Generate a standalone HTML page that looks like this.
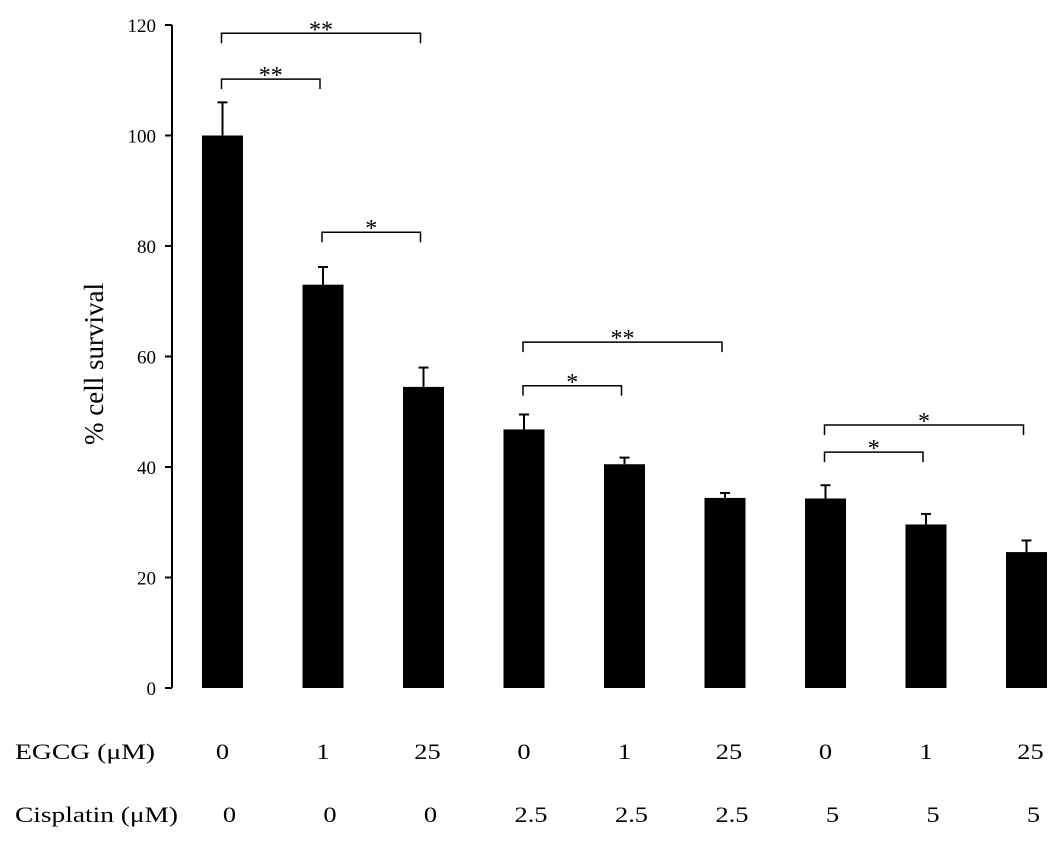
<!DOCTYPE html>
<html><head><meta charset="utf-8"><style>
body{margin:0;background:#fff;}
svg{display:block;font-family:"Liberation Serif",serif;}
</style></head><body>
<svg id="c" width="1063" height="846"></svg>
<script>
const categories=["1","2","3","4","5","6","7","8","9"];
const egcg=["0","1","25","0","1","25","0","1","25"];
const cisplatin=["0","0","0","2.5","2.5","2.5","5","5","5"];
const values=[100,73,54.5,46.8,40.5,34.4,34.3,29.6,24.6];
const errors=[6,3.2,3.5,2.7,1.2,0.9,2.4,1.9,2.1];
const yTicks=[0,20,40,60,80,100,120];
const sigFrom=[0,0,1,3,3,6,6];
const sigTo=[2,1,2,5,4,8,7];
const sigLevel=[118.5,110.2,82.5,62.6,54.7,47.6,42.7];
const sigLabel=["**","**","*","**","*","*","*"];
const NS="http://www.w3.org/2000/svg";
const svg=document.getElementById('c');
const y=v=>688-v*(663/120);
const x=i=>222.5+i*100.5;
function el(t,a,txt){const e=document.createElementNS(NS,t);for(const k in a)e.setAttribute(k,a[k]);if(txt!==undefined)e.textContent=txt;svg.appendChild(e);return e;}
let e=el('line',{x1:172,y1:y(0),x2:172,y2:y(120),stroke:'#000','stroke-width':2});


yTicks.forEach(t=>{
 let l=el('line',{x1:165,y1:y(t),x2:172,y2:y(t),stroke:'#000','stroke-width':2});
 
 
 let tx=el('text',{x:156,y:y(t)+7,'text-anchor':'end','font-size':19},t);
 
 
});
let yt=el('text',{x:0,y:0,transform:'translate(103,364) rotate(-90)','text-anchor':'middle','font-size':27,textLength:162,lengthAdjust:'spacingAndGlyphs'},'% cell survival');


values.forEach((v,i)=>{
 let eb=el('line',{x1:x(i),y1:y(v),x2:x(i),y2:y(v+errors[i]),stroke:'#000','stroke-width':2});
 
 
 let cap=el('line',{x1:x(i)-5,y1:y(v+errors[i]),x2:x(i)+5,y2:y(v+errors[i]),stroke:'#000','stroke-width':2});
 
 
 let b=el('rect',{x:x(i)-20.5,y:y(v),width:41,height:y(0)-y(v),fill:'#000'});
 
 
 let ex=x(i)+(i%3==2?4:0);
 let t1=el('text',{x:0,y:0,transform:`translate(${ex},759) scale(1.2,1)`,'text-anchor':'middle','font-size':22},egcg[i]);
 
 
 let cx=x(i)+7;
 let t2=el('text',{x:0,y:0,transform:`translate(${cx},822) scale(1.2,1)`,'text-anchor':'middle','font-size':22},cisplatin[i]);
 
 
});
let r1=el('text',{x:15,y:759,'font-size':22,textLength:140,lengthAdjust:'spacingAndGlyphs'},'EGCG (\u03bcM)');


let r2=el('text',{x:15,y:822,'font-size':22,textLength:163,lengthAdjust:'spacingAndGlyphs'},'Cisplatin (\u03bcM)');


sigFrom.forEach((f,k)=>{
 const yy=y(sigLevel[k]),x1=x(f)-1,x2=x(sigTo[k])-3;
 let p=el('path',{d:`M${x1},${yy+10}V${yy}H${x2}V${yy+10}`,fill:'none',stroke:'#000','stroke-width':1.5});
 
 
 let s=el('text',{x:(x1+x2)/2,y:yy+4,'text-anchor':'middle','font-size':24},sigLabel[k]);
 
 
});
</script>
</body></html>
